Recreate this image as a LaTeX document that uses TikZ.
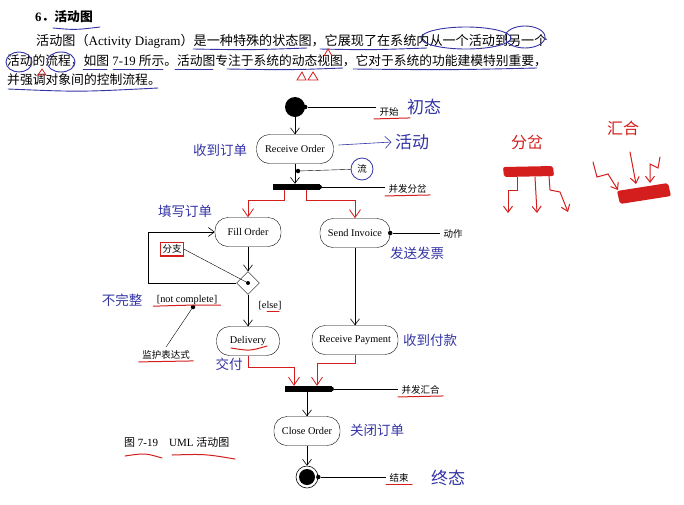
\documentclass[tikz,border=0pt]{standalone}
\usepackage{fontspec}
\setmainfont{Liberation Serif}
\newfontfamily\cjk{Noto Sans CJK SC}
\usetikzlibrary{arrows.meta,positioning,shapes.geometric}
\definecolor{penblue}{RGB}{52,52,165}
\definecolor{penred}{RGB}{212,30,30}

\tikzset{
  act/.style={draw, fill=white, rounded corners=13pt, minimum height=29pt, inner xsep=7pt,
    font=\fontsize{10.3}{12}\selectfont},
  flow/.style={semithick, -{Straight Barb[length=6pt,width=9pt]}},
  redflow/.style={penred, thick, -{Straight Barb[length=8pt,width=11pt]}},
  bar/.style={fill=black, minimum width=47pt, minimum height=6pt, inner sep=0pt},
  tag/.style={font=\cjk\fontsize{9.5}{11}\selectfont},
  note/.style={text=penblue, font=\cjk\fontsize{13.5}{15}\selectfont},
  hand/.style={text=penblue, font=\cjk\fontsize{17}{18}\selectfont},
  redhand/.style={text=penred, font=\cjk\fontsize{16}{18}\selectfont},
  pin/.style={circle, fill=black, inner sep=0pt, minimum size=4.5pt},
  txt/.style={anchor=west, inner sep=0pt, font=\fontsize{12.8}{14}\selectfont},
  blueline/.style={penblue, line width=0.9pt, line cap=round},
  redline/.style={penred, line width=1pt, line cap=round},
}

\begin{document}
\begin{tikzpicture}[x=1pt, y=-1pt]
\useasboundingbox[fill=white] (0,0) rectangle (684,504);
% heading and text
\node[txt, font=\bfseries\fontsize{12.8}{14}\selectfont] (head) at (35,17) {6{\cjk ．活动图}};
\node[txt, font=\fontsize{13.1}{14}\selectfont] (line1) at (36,41) {{\cjk 活动图（}Activity Diagram{\cjk ）是一种特殊的状态图，它展现了在系统内从一个活动到另一个}};
\node[txt, font=\fontsize{12.75}{14}\selectfont] (line2) at (7,61) {{\cjk 活动的流程，如图} 7-19 {\cjk 所示。活动图专注于系统的动态视图，它对于系统的功能建模特别重要，}};
\node[txt] (line3) at (7,80) {{\cjk 并强调对象间的控制流程。}};
% pen marks on the text
\draw[blueline] (53,28) .. controls (75,30) .. (100,27);
\draw[blueline] (193,49) .. controls (250,50) .. (307,48);
\draw[blueline] (320,49) .. controls (370,50) .. (427,48);
\draw[blueline] (466,38) ellipse [x radius=45, y radius=11];
\draw[blueline] (525,37) ellipse [x radius=20, y radius=11];
\draw[blueline] (19,62) ellipse [x radius=13, y radius=10];
\draw[blueline] (61,62) ellipse [x radius=14, y radius=10];
\draw[blueline] (83,69) -- (107,69);
\draw[blueline] (113,69) -- (163,69);
\draw[blueline] (175,69) -- (213,69);
\draw[blueline] (227,69) .. controls (290,70) .. (343,68);
\draw[blueline] (353,69) .. controls (450,70) .. (537,68);
\draw[blueline] (8,89) .. controls (80,92) .. (158,88);
\draw[redline, line width=0.8pt] (324,56) -- (328,49) -- (332,56);
\draw[redline, line width=0.8pt] (38,75) -- (42,69) -- (46,75) -- cycle;
\draw[redline, line width=0.8pt] (297,80) -- (302,72) -- (306,80) -- cycle (308,80) -- (313,72) -- (318,80) -- cycle;

% start node
\node[circle, fill=black, minimum size=20pt, inner sep=0pt] (start) at (295,107) {};
\node[pin] (startpin) at (start.east) {};
\node[tag, anchor=west] (startlbl) at (376,112) {开始};
\draw (startpin) -- (startpin -| startlbl.west);
\node[hand] (chutai) at (424,107) {初态};
% receive order
\node[act, minimum width=77pt] (ro) at (295,149) {Receive Order};
\draw[flow] (start) -- (ro);
\node[note] (n1) at (220,150) {收到订单};
\node[hand] (huodong) at (412,142) {活动};
\draw[penblue, semithick, -{Straight Barb[length=6pt,width=12pt]}] ([xshift=5pt,yshift=4pt]ro.east) -- (huodong.west);
% fork
\node[bar] (fork) at (296,187) {};
\draw[flow] (ro) -- (ro |- fork.north);
\node[pin] (flowpin) at (298,171) {};
\node[tag, circle, draw=penblue, thick, inner sep=1pt, minimum size=22pt] (liu) at (362,169) {流};
\draw (flowpin) -- (liu);
\node[pin] (forkpin) at (fork.east) {};
\node[tag, anchor=west] (forklbl) at (385,189) {并发分岔};
\draw (forkpin) -- (forkpin -| forklbl.west);
% fill order / send invoice
\node[act, minimum width=66pt] (fill) at (248,232) {Fill Order};
\node[act, minimum width=70pt] (send) at (355,233) {Send Invoice};
\draw[redflow] ([xshift=-12pt]fork.south) -- ++(0,10) -| (fill.north);
\draw[redflow] ([xshift=10pt]fork.south) -- ++(0,10) -| (send.north);
\node[note] (n2) at (185,211) {填写订单};
\node[note] (n3) at (417,253) {发送发票};
\node[pin] (sendpin) at (send.east) {};
\node[tag, anchor=west] (sendlbl) at (440,234) {动作};
\draw (sendpin) -- (sendpin -| sendlbl.west);
% branch
\node[draw, diamond, fill=white, minimum size=23pt, inner sep=0pt] (dec) at (248,283) {};
\node[pin, minimum size=4pt] (decpin) at (dec) {};
\draw[flow] (fill) -- (dec);
\coordinate (loopcorner) at (148,283);
\draw[flow] (dec.west) -- (loopcorner) |- (fill.west);
\node[tag, draw=penred, inner sep=2pt] (branch) at (172,249) {分支};
\draw (branch.east) -- (decpin);
\node[font=\fontsize{10.3}{12}\selectfont] (guard) at (187,300) {[not complete]};
\node[pin] (guardpin) at (193,307) {};
\node[tag] (guardlbl) at (166,355) {监护表达式};
\draw (guardpin) -- (guardlbl.north);
\node[note] (n4) at (122,300) {不完整};
\node[font=\fontsize{10.3}{12}\selectfont] (elselbl) at (270,306) {[else]};
% delivery / receive payment
\node[act, minimum width=63pt] (deliv) at (248,341) {Delivery};
\node[act, minimum width=86pt] (pay) at (355,340) {Receive Payment};
\draw[flow] (dec) -- (deliv);
\draw[flow] (send) -- (pay);
\node[note] (n5) at (430,340) {收到付款};
\node[note] (n6) at (229,364) {交付};
% join
\node[bar] (join) at (308,389) {};
\draw[redflow] (deliv.south) -- ++(0,12) -| ([xshift=-14pt]join.north);
\draw[redflow] (pay.south) -- ++(0,9) -| ([xshift=9pt]join.north);
\node[pin] (joinpin) at (join.east) {};
\node[tag, anchor=west] (joinlbl) at (398,390) {并发汇合};
\draw (joinpin) -- (joinpin -| joinlbl.west);
% close order and end
\node[act, minimum width=66pt] (close) at (307,431) {Close Order};
\draw[flow] (close |- join.south) -- (close);
\node[note] (n7) at (377,430) {关闭订单};
\node[circle, draw, semithick, fill=white, minimum size=22pt, inner sep=0pt] (end) at (307,477) {};
\node[circle, fill=black, minimum size=16pt, inner sep=0pt] (endcore) at (end) {};
\draw[flow] (close) -- (end);
\node[pin] (endpin) at (end.east) {};
\node[tag, anchor=west] (endlbl) at (386,478) {结束};
\draw (endpin) -- (endpin -| endlbl.west);
\node[hand] (zhongtai) at (448,478) {终态};
% caption
\node[anchor=west, inner sep=0pt, font=\fontsize{11}{13}\selectfont] (caption) at (124,442) {{\cjk 图} 7-19\hspace{11pt}UML {\cjk 活动图}};
% red underlines
\draw[redline] ([xshift=-2pt,yshift=1pt]startlbl.south west) -- ([xshift=8pt,yshift=2pt]startlbl.south east);
\draw[redline] ([yshift=1pt]forklbl.south west) -- ([yshift=2pt]forklbl.south east);
\draw[redline] ([yshift=1pt]joinlbl.south west) -- ([yshift=2pt]joinlbl.south east);
\draw[redline] ([yshift=1pt]endlbl.south west) -- ([yshift=1pt]endlbl.south east);
\draw[redline] ([yshift=1pt]guardlbl.south west) -- ([yshift=2pt]guardlbl.south east);
\draw[redline] ([yshift=2pt]guard.south west) .. controls (190,305) .. ([yshift=3pt]guard.south east);
\draw[redline] ([xshift=-3pt,yshift=2pt]elselbl.south) -- ([xshift=9pt,yshift=2pt]elselbl.south);
\draw[redline] ([yshift=-1pt]branch.south west) -- ([yshift=-1pt]branch.south east);
\draw[redline] (231,348) .. controls (250,351) .. (267,346);
\draw[redline] (125,456) .. controls (145,453) .. (162,458);
\draw[redline] (172,455) .. controls (205,454) .. (235,459);
% sketches on the right
\node[redhand] (fencha) at (527,142) {分岔};
\fill[penred, rounded corners=2pt] (503,167) -- (553,166) -- (554,176) -- (504,177) -- cycle;
\draw[redline, -{Straight Barb[length=6pt,width=9pt]}] (517,177) -- (517,190) -- (508,190) -- (508,213);
\draw[redline, -{Straight Barb[length=6pt,width=9pt]}] (535,177) -- (537,213);
\draw[redline, -{Straight Barb[length=6pt,width=9pt]}] (549,176) -- (550,190) -- (560,192) -- (568,212);
\node[redhand] (huihe) at (623,128) {汇合};
\fill[penred, rounded corners=2pt] (617,191) -- (668,183) -- (671,196) -- (620,204) -- cycle;
\draw[redline, -{Straight Barb[length=6pt,width=9pt]}] (593,162) -- (597,177) -- (608,174) -- (618,190);
\draw[redline, -{Straight Barb[length=6pt,width=9pt]}] (630,152) -- (636,184);
\draw[redline, -{Straight Barb[length=6pt,width=9pt]}] (660,157) -- (658,168) -- (650,164) -- (650,183);
\end{tikzpicture}
\end{document}
